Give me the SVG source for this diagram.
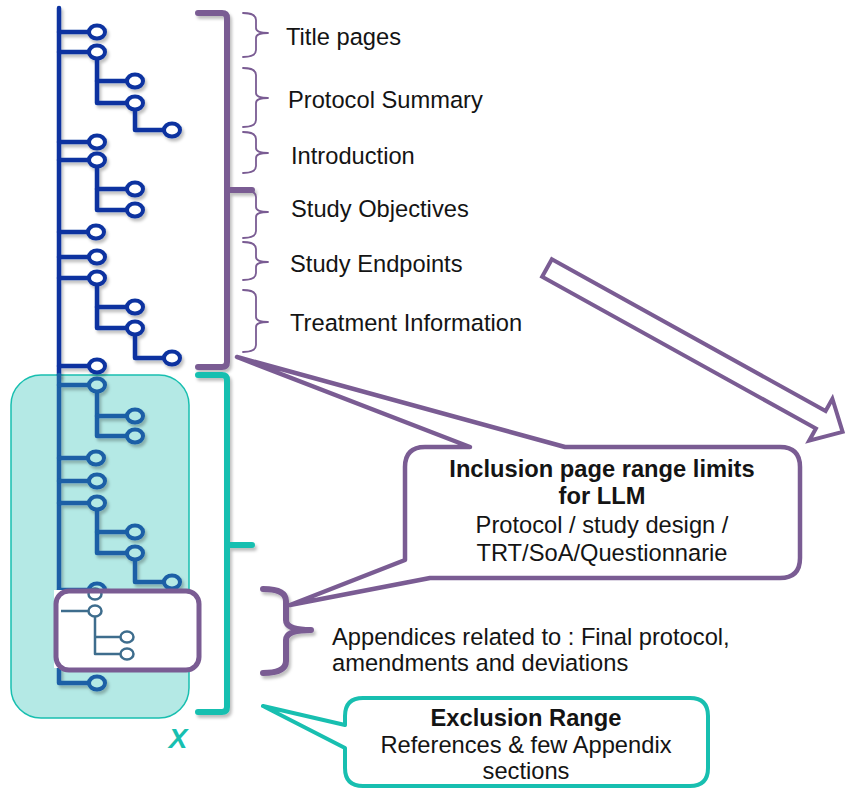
<svg xmlns="http://www.w3.org/2000/svg" width="845" height="789" viewBox="0 0 845 789">
<style>
  .t { font-family: "Liberation Sans", Arial, sans-serif; font-size: 23.7px; fill: #141414; }
  .b { font-weight: bold; }
  .dk { fill: none; stroke: #0a33a0; stroke-width: 4.5; stroke-linejoin: round; stroke-linecap: round; }
  .lt { fill: none; stroke: #1a5fa6; stroke-width: 4.5; stroke-linejoin: round; stroke-linecap: round; }
  .dkc { fill: #ffffff; stroke: #0a33a0; stroke-width: 4; }
  .ltc { fill: #b4e9e5; stroke: #1a5fa6; stroke-width: 4; }
  .th { fill: none; stroke: #3e6d8d; stroke-width: 2.5; stroke-linejoin: round; }
  .thc { fill: #ffffff; stroke: #3e6d8d; stroke-width: 2.5; }
  .brace { fill: none; stroke: #7a5c93; stroke-width: 1.8; stroke-linecap: round; stroke-linejoin: round; }
  .pbig { fill: none; stroke: #7a5c93; stroke-width: 6; stroke-linecap: round; stroke-linejoin: round; }
  .tbig { fill: none; stroke: #18bfb0; stroke-width: 6; stroke-linecap: round; stroke-linejoin: round; }
  .dash { fill: none; stroke: #0a33a0; stroke-width: 4; stroke-dasharray: 16 10; }
</style>
<defs>
  <filter id="sh" x="-20%" y="-20%" width="140%" height="140%">
    <feDropShadow dx="2" dy="3" stdDeviation="1.5" flood-color="#000" flood-opacity="0.25"/>
  </filter>
</defs>

<!-- teal exclusion box -->
<g id="exclusion-area">
  <rect x="11" y="375" width="178" height="343" rx="30" fill="#b4e9e5" stroke="#18bfb0" stroke-width="1.5"/>
</g>

<!-- tree (upper, dark) -->
<g id="tree-upper" filter="url(#sh)">
  <path class="dk" d="M59,8 V375"/>
  <path class="dk" d="M59,32 H97"/>
  <path class="dk" d="M59,52 H97 V103 H135 V130 H172"/>
  <path class="dk" d="M97,81 H135"/>
  <path class="dk" d="M59,142 H97"/>
  <path class="dk" d="M59,160 H97 V210 H135"/>
  <path class="dk" d="M97,189 H135"/>
  <path class="dk" d="M59,232 H96"/>
  <path class="dk" d="M59,257 H97"/>
  <path class="dk" d="M59,278 H97 V328 H135 V358 H172"/>
  <path class="dk" d="M97,307 H135"/>
  <path class="dk" d="M59,366 H97"/>
  <ellipse class="dkc" cx="97" cy="32" rx="8" ry="6.5"/>
  <ellipse class="dkc" cx="97" cy="52" rx="8" ry="6.5"/>
  <ellipse class="dkc" cx="135" cy="81" rx="8" ry="6.5"/>
  <ellipse class="dkc" cx="135" cy="103" rx="8" ry="6.5"/>
  <ellipse class="dkc" cx="172" cy="130" rx="8" ry="6.5"/>
  <ellipse class="dkc" cx="97" cy="142" rx="8" ry="6.5"/>
  <ellipse class="dkc" cx="97" cy="160" rx="8" ry="6.5"/>
  <ellipse class="dkc" cx="135" cy="189" rx="8" ry="6.5"/>
  <ellipse class="dkc" cx="135" cy="210" rx="8" ry="6.5"/>
  <ellipse class="dkc" cx="96" cy="232" rx="8" ry="6.5"/>
  <ellipse class="dkc" cx="97" cy="257" rx="8" ry="6.5"/>
  <ellipse class="dkc" cx="97" cy="278" rx="8" ry="6.5"/>
  <ellipse class="dkc" cx="135" cy="307" rx="8" ry="6.5"/>
  <ellipse class="dkc" cx="135" cy="328" rx="8" ry="6.5"/>
  <ellipse class="dkc" cx="172" cy="358" rx="8" ry="6.5"/>
  <ellipse class="dkc" cx="97" cy="366" rx="8" ry="6.5"/>
</g>

<!-- tree (lower, in exclusion area) -->
<g id="tree-lower" filter="url(#sh)">
  <path class="lt" d="M59,375 V683 H97"/>
  <path class="lt" d="M59,385 H97 V436 H135"/>
  <path class="lt" d="M97,416 H135"/>
  <path class="lt" d="M59,458 H96"/>
  <path class="lt" d="M59,481 H97"/>
  <path class="lt" d="M59,503 H97 V553 H135 V582 H172"/>
  <path class="lt" d="M97,532 H135"/>
  <path class="lt" d="M59,590 H97"/>
  <ellipse class="ltc" cx="97" cy="385" rx="8" ry="6.5"/>
  <ellipse class="ltc" cx="135" cy="416" rx="8" ry="6.5"/>
  <ellipse class="ltc" cx="135" cy="436" rx="8" ry="6.5"/>
  <ellipse class="ltc" cx="96" cy="458" rx="8" ry="6.5"/>
  <ellipse class="ltc" cx="97" cy="481" rx="8" ry="6.5"/>
  <ellipse class="ltc" cx="97" cy="503" rx="8" ry="6.5"/>
  <ellipse class="ltc" cx="135" cy="532" rx="8" ry="6.5"/>
  <ellipse class="ltc" cx="135" cy="553" rx="8" ry="6.5"/>
  <ellipse class="ltc" cx="172" cy="582" rx="8" ry="6.5"/>
  <ellipse class="ltc" cx="97" cy="590" rx="8" ry="6.5"/>
  <ellipse class="ltc" cx="97" cy="683" rx="8" ry="6.5"/>
</g>

<!-- connectors -->
<g id="connectors">
  <path class="dash" filter="url(#sh)" d="M190,591 H272"/>
  <path class="dash" filter="url(#sh)" d="M100,672 H265"/>
  <g filter="url(#sh)">
    <path class="pbig" d="M198,13 H222 Q227,13 227,18 V362 Q227,367 222,367 H198 M227,190 H252"/>
    <path class="tbig" d="M198,375 H222 Q227,375 227,380 V707 Q227,712 222,712 H198 M227,545 H252"/>
    <path class="pbig" d="M263,589 Q286,589 286,601 V620 Q286,630 311,630 Q286,630 286,640 V661 Q286,673 263,673"/>
  </g>
  <path class="brace" d="M243,13 Q256,13 256,20 V28 Q256,33 268,33 Q256,33 256,38 V50 Q256,57 243,57"/>
  <path class="brace" d="M243,68 Q256,68 256,75 V93 Q256,98 268,98 Q256,98 256,103 V120 Q256,127 243,127"/>
  <path class="brace" d="M243,132 Q256,132 256,139 V148 Q256,153 268,153 Q256,153 256,158 V166 Q256,173 243,173"/>
  <path class="brace" d="M243,190 Q256,190 256,197 V207 Q256,212 268,212 Q256,212 256,217 V231 Q256,238 243,238"/>
  <path class="brace" d="M243,242 Q256,242 256,249 V257 Q256,262 268,262 Q256,262 256,267 V273 Q256,280 243,280"/>
  <path class="brace" d="M243,290 Q256,290 256,297 V317 Q256,322 268,322 Q256,322 256,327 V345 Q256,352 243,352"/>
  <g transform="translate(547,268) rotate(29)">
    <polygon points="0,-10 313,-10 313,-24 338,0 313,24 313,10 0,10" fill="#ffffff" stroke="#7a5c93" stroke-width="4" stroke-linejoin="miter"/>
  </g>
</g>

<!-- zoomed appendix excerpt -->
<g id="appendix-excerpt">
  <rect x="54" y="590" width="136" height="78" fill="#ffffff"/>
  <path class="th" d="M61,611 H95 V654 H127"/>
  <path class="th" d="M95,637 H127"/>
  <ellipse class="thc" cx="95" cy="594" rx="6.5" ry="5.5"/>
  <ellipse class="thc" cx="95" cy="611" rx="6.5" ry="5.5"/>
  <ellipse class="thc" cx="127" cy="637" rx="6.5" ry="5.5"/>
  <ellipse class="thc" cx="127" cy="654" rx="6.5" ry="5.5"/>
  <rect x="56" y="591" width="143" height="79" rx="13" fill="none" stroke="#7a5c93" stroke-width="5"/>
</g>

<!-- section labels -->
<g id="labels">
  <text class="t" x="286" y="45">Title pages</text>
  <text class="t" x="288" y="108">Protocol Summary</text>
  <text class="t" x="291" y="164">Introduction</text>
  <text class="t" x="291" y="217">Study Objectives</text>
  <text class="t" x="290" y="272">Study Endpoints</text>
  <text class="t" x="290" y="331">Treatment Information</text>
  <text class="t" x="332" y="645">Appendices related to : Final protocol,</text>
  <text class="t" x="332" y="671">amendments and deviations</text>
</g>

<!-- inclusion callout -->
<g id="inclusion-callout">
  <path d="M425,447 H470 L237,357 L565,447 H780 Q800,447 800,467 V558 Q800,578 780,578 H430 L290,605 L405,560 V467 Q405,447 425,447 Z" fill="#ffffff" stroke="#7a5c93" stroke-width="4.5" stroke-linejoin="round"/>
  <text class="t b" x="602" y="477" text-anchor="middle">Inclusion page range limits</text>
  <text class="t b" x="602" y="504" text-anchor="middle">for LLM</text>
  <text class="t" x="602" y="533" text-anchor="middle">Protocol / study design /</text>
  <text class="t" x="602" y="561" text-anchor="middle">TRT/SoA/Questionnarie</text>
</g>

<!-- exclusion callout -->
<g id="exclusion-callout">
  <path d="M363,698 H690 Q708,698 708,716 V768 Q708,786 690,786 H363 Q345,786 345,768 V748 L263,706 L345,725 V716 Q345,698 363,698 Z" fill="#ffffff" stroke="#18bfb0" stroke-width="4" stroke-linejoin="round"/>
  <text class="t b" x="526" y="726" text-anchor="middle">Exclusion Range</text>
  <text class="t" x="526" y="753" text-anchor="middle">References &amp; few Appendix</text>
  <text class="t" x="526" y="779" text-anchor="middle">sections</text>
</g>

<g id="x-mark">
  <text x="178" y="748" text-anchor="middle" font-family="Liberation Sans, Arial, sans-serif" font-size="28" font-weight="bold" font-style="italic" fill="#18bfb0">X</text>
</g>
</svg>
